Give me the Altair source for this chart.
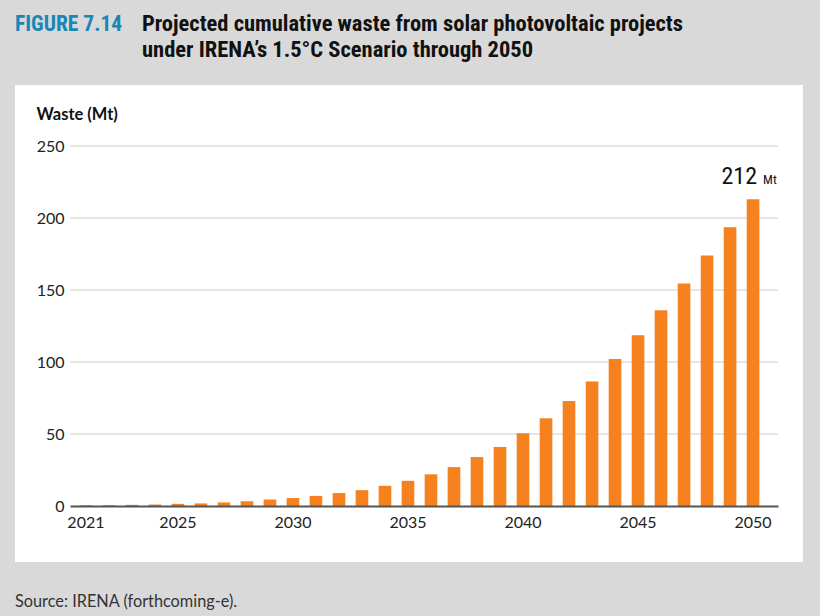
import altair as alt
import pandas as pd

# ---- data ----
years = [str(y) for y in range(2021, 2051)]
waste_mt = [0.5, 0.6, 0.8, 1.0, 1.5, 1.8, 2.5, 3.3, 4.5, 5.5,
            7.0, 9.0, 11.0, 14.0, 17.5, 22.0, 27.0, 34.0, 41.0, 50.5,
            61.0, 73.0, 86.5, 102.0, 118.5, 136.0, 154.5, 174.0, 193.5, 213.0]
x_tick_labels = ["2021", "2025", "2030", "2035", "2040", "2045", "2050"]
y_ticks = [0, 50, 100, 150, 200, 250]

fig_label = "FIGURE 7.14"
title_lines = ["Projected cumulative waste from solar photovoltaic projects",
               "under IRENA\u2019s 1.5\u00b0C Scenario through 2050"]
y_title = "Waste (Mt)"
source_text = "Source: IRENA (forthcoming-e)."
annot_year = ["2050"]
annot_value = [212]
annot_num = ["212"]
annot_unit = ["Mt"]

df = pd.DataFrame({"year": years, "waste": waste_mt})
annot = pd.DataFrame({"year": annot_year, "waste": annot_value,
                      "num": annot_num, "unit": annot_unit})
grid_df = pd.DataFrame({"waste": y_ticks[1:]})

ORANGE = "#f5821f"
BLUE = "#1a86b5"
LABEL_FONT = "Lato"
NARROW = "'Roboto Condensed', 'DejaVu Sans Condensed', 'Liberation Sans Narrow', 'Arial Narrow', sans-serif"

one = pd.DataFrame({"k": [0]})

panel = alt.Chart(one).mark_rect(color="white").encode(
    x=alt.value(-55), x2=alt.value(733), y=alt.value(-61), y2=alt.value(416)
)

y_scale = alt.Scale(domain=[0, 250], nice=False)
y_axis = alt.Axis(values=y_ticks, title=y_title, titleAngle=0,
                  titleAlign="left", titleBaseline="alphabetic",
                  titleX=-34, titleY=-27, titleFont=LABEL_FONT,
                  titleFontSize=16.5, titleFontWeight="bold",
                  titleColor="#111111",
                  ticks=False, domain=False, grid=False,
                  labelFont=LABEL_FONT, labelFontSize=16,
                  labelColor="#222222", labelPadding=6, zindex=1)

grid = alt.Chart(grid_df).mark_rule(color="#dcdcdc", strokeWidth=1.5).encode(
    y=alt.Y("waste:Q", scale=y_scale, axis=y_axis),
    x=alt.value(0), x2=alt.value(708)
)

x_enc = alt.X("year:O",
              scale=alt.Scale(paddingInner=0.45, paddingOuter=0.613, align=0.34),
              axis=alt.Axis(values=x_tick_labels, title=None, labelAngle=0,
                            ticks=False, domain=True, domainColor="#555555",
                            domainWidth=2, labelFont=LABEL_FONT, labelFontSize=16,
                            labelColor="#222222", labelPadding=8, grid=False,
                            zindex=1))
y_enc = alt.Y("waste:Q", scale=y_scale, axis=y_axis)

bars = alt.Chart(df).mark_bar(color=ORANGE).encode(x=x_enc, y=y_enc)

num = alt.Chart(annot).mark_text(align="right", baseline="alphabetic", dx=4, dy=-17,
                                 font=NARROW, fontSize=24, color="#111111").encode(
    x=alt.X("year:O"), y=alt.Y("waste:Q"), text="num:N")
unit = alt.Chart(annot).mark_text(align="left", baseline="alphabetic", dx=10, dy=-17,
                                  font=NARROW, fontSize=13, color="#111111").encode(
    x=alt.X("year:O"), y=alt.Y("waste:Q"), text="unit:N")

fig_df = pd.DataFrame({"t": [fig_label]})
fig_txt = alt.Chart(fig_df).mark_text(align="left", baseline="alphabetic",
                                      font=NARROW, fontSize=21.5, fontWeight="bold",
                                      color=BLUE).encode(
    x=alt.value(-55), y=alt.value(-115), text="t:N")

t1 = alt.Chart(pd.DataFrame({"t": [title_lines[0]]})).mark_text(
    align="left", baseline="alphabetic", font=NARROW, fontSize=22.5,
    fontWeight="bold", color="#111111").encode(
    x=alt.value(72), y=alt.value(-115), text="t:N")
t2 = alt.Chart(pd.DataFrame({"t": [title_lines[1]]})).mark_text(
    align="left", baseline="alphabetic", font=NARROW, fontSize=22.5,
    fontWeight="bold", color="#111111").encode(
    x=alt.value(72), y=alt.value(-89), text="t:N")

src = alt.Chart(pd.DataFrame({"t": [source_text]})).mark_text(
    align="left", baseline="alphabetic", font=LABEL_FONT, fontSize=16.3,
    color="#333333").encode(
    x=alt.value(-55), y=alt.value(461), text="t:N")

chart = alt.layer(panel, grid, bars, num, unit, fig_txt, t1, t2, src).properties(
    width=708, height=360,
    autosize=alt.AutoSizeParams(type="none"),
    padding={"left": 70, "top": 146, "right": 42, "bottom": 110},
    background="#d9d9d9",
).configure_view(stroke=None)

chart.save("out.html", embed_options={"renderer": "svg", "actions": False})
